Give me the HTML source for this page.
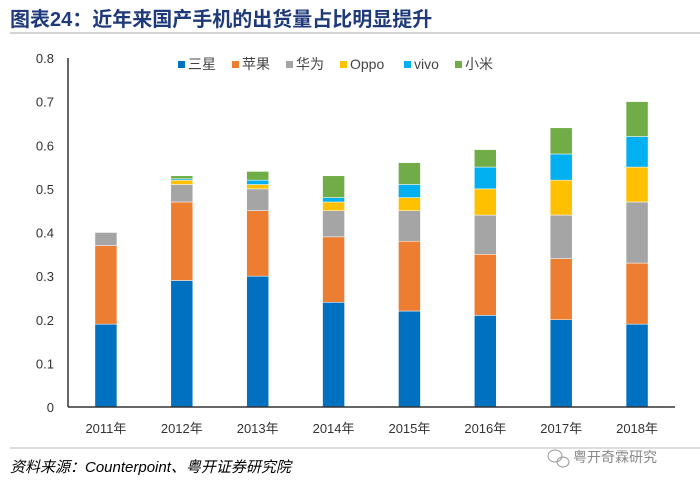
<!DOCTYPE html>
<html><head><meta charset="utf-8">
<style>
body{margin:0;width:700px;height:483px;background:#fff;overflow:hidden;font-family:"Liberation Sans","Noto Sans CJK SC",sans-serif;}
svg text{font-family:"Liberation Sans","Noto Sans CJK SC",sans-serif;}
</style></head><body>
<svg width="700" height="483">
<text x="10" y="26" font-size="20" font-weight="bold" fill="#1f3a7a">图表24：近年来国产手机的出货量占比明显提升</text>
<line x1="10" y1="33" x2="700" y2="33" stroke="#aaa" stroke-width="1"/>
<g id="plot"></g>
<line x1="10" y1="448" x2="700" y2="448" stroke="#bbb" stroke-width="1"/>
<text x="10" y="472" font-size="15" font-style="italic" fill="#000">资料来源：Counterpoint、粤开证券研究院</text>
<g fill="none" stroke="#999">
<ellipse cx="555" cy="456" rx="7" ry="6"/><ellipse cx="563" cy="462" rx="6" ry="5"/>
</g>
<text x="573" y="462" font-size="14" fill="#888">粤开奇霖研究</text>
</svg>
<script>
const categories=["2011年","2012年","2013年","2014年","2015年","2016年","2017年","2018年"];
const seriesNames=["三星","苹果","华为","Oppo","vivo","小米"];
const samsung=[0.19,0.29,0.30,0.24,0.22,0.21,0.20,0.19];
const apple=[0.18,0.18,0.15,0.15,0.16,0.14,0.14,0.14];
const huawei=[0.03,0.04,0.05,0.06,0.07,0.09,0.10,0.14];
const oppo=[0,0.01,0.01,0.02,0.03,0.06,0.08,0.08];
const vivo=[0,0.003,0.01,0.01,0.03,0.05,0.06,0.07];
const xiaomi=[0,0.007,0.02,0.05,0.05,0.04,0.06,0.08];
const yTicks=[0,0.1,0.2,0.3,0.4,0.5,0.6,0.7,0.8];
const colors=["#0070c0","#ed7d31","#a5a5a5","#ffc000","#00b0f0","#70ad47"];
const series=[samsung,apple,huawei,oppo,vivo,xiaomi];
const NS="http://www.w3.org/2000/svg";
const g=document.getElementById('plot');
const x0=68,x1=675,yb=407,yt=58,ymax=0.8;
const y=v=>yb-(v/ymax)*(yb-yt);
const bw=(x1-x0)/categories.length;
const xc=i=>x0+bw*(i+0.5);
function mk(t,a){const e=document.createElementNS(NS,t);for(const k in a)e.setAttribute(k,a[k]);g.appendChild(e);return e;}
yTicks.forEach(v=>{const t=mk('text',{x:54,y:y(v)+5,'text-anchor':'end','font-size':13,fill:'#333'});t.textContent=v===0?'0':v.toFixed(1);

});
categories.forEach((c,i)=>{let acc=0;series.forEach((s,k)=>{const v=s[i];if(v>0){const r=mk('rect',{x:xc(i)-11,y:y(acc+v),width:22,height:y(acc)-y(acc+v),fill:colors[k],stroke:'#fff','stroke-width':0.5});

}acc+=v;});
const t=mk('text',{x:xc(i),y:433,'text-anchor':'middle','font-size':13,fill:'#333'});t.textContent=c;

});
const ax=mk('line',{x1:x0,y1:yt,x2:x0,y2:yb,stroke:'#333','stroke-width':1.5});


const bx=mk('line',{x1:x0,y1:yb,x2:x1,y2:yb,stroke:'#333','stroke-width':1.5});


const lx=[178,232,286,340,404,455];
seriesNames.forEach((n,k)=>{const r=mk('rect',{x:lx[k],y:61,width:7,height:7,fill:colors[k]});


const t=mk('text',{x:lx[k]+10,y:69,'font-size':14,fill:'#444'});t.textContent=n;

});
</script>
</body></html>
